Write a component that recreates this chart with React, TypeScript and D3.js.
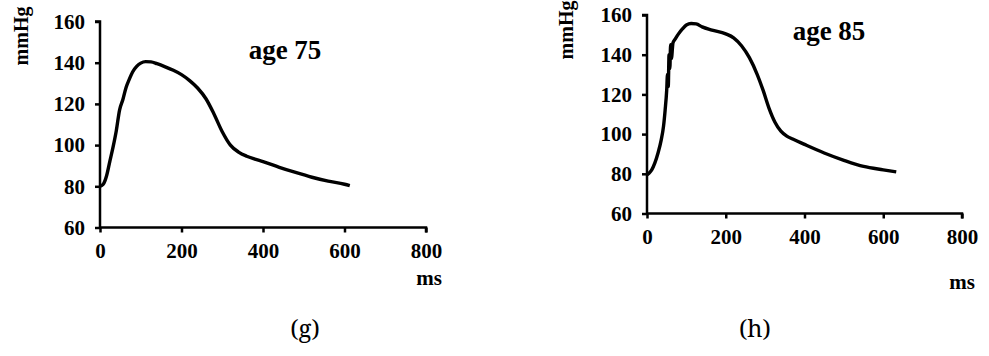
import * as d3 from "d3";
import { useRef, useEffect } from "react";

// age 75 pressure wave (ms -> mmHg)
const msAge75 = [0, 8, 16, 24, 32, 40, 48, 56, 64, 72, 80, 90, 100, 112, 125, 140, 160, 180, 200, 220, 240, 260, 280, 300, 320, 340, 360, 380, 400, 440, 480, 520, 560, 600, 613];
const pAge75 = [80, 81, 85, 92, 99, 107, 117, 122, 128, 132, 135.5, 138.2, 139.8, 140.5, 140.4, 139.5, 138, 136.3, 134.2, 131.3, 127.6, 122.5, 115, 106.5, 100, 96.6, 94.6, 93.2, 92, 89.2, 86.7, 84.4, 82.5, 81, 80.3];

// age 85 pressure wave (ms -> mmHg)
const msAge85 = [0, 5, 12, 20, 28, 36, 42, 46, 50, 52, 54, 56, 58, 60, 62, 66, 72, 80, 90, 100, 112, 125, 140, 165, 200, 220, 240, 260, 280, 295, 310, 325, 340, 355, 370, 400, 450, 500, 550, 600, 633];
const pAge85 = [79.5, 80.3, 82, 85.5, 90.5, 97, 104, 112, 122, 130, 124, 140, 133, 145, 138, 146, 148, 150.5, 153, 155, 155.7, 155.5, 154, 152.4, 150.5, 148.5, 144.5, 138.5, 130, 122, 113, 106, 101.5, 99, 97.5, 94.8, 90.5, 86.8, 83.7, 82, 81];

const xTicks = [0, 200, 400, 600, 800];
const yTicks = [60, 80, 100, 120, 140, 160];

const FONT = "'Liberation Serif', serif";
const CAP_FONT = "'Noto Serif', serif";

type PanelSpec = {
  ms: number[];
  p: number[];
  title: string;
  caption: string;
  x0: number;
  x1: number;
  yTop: number;
  yBottom: number;
  titleX: number;
  titleY: number;
  msX: number;
  msY: number;
  captionX: number;
  unitX: number;
  unitY: number;
};

const panels: PanelSpec[] = [
  { ms: msAge75, p: pAge75, title: "age 75", caption: "(g)", x0: 100, x1: 426, yTop: 21.5, yBottom: 227.5, titleX: 285, titleY: 59, msX: 429, msY: 285, captionX: 305, unitX: 21, unitY: 36 },
  { ms: msAge85, p: pAge85, title: "age 85", caption: "(h)", x0: 647, x1: 962, yTop: 15, yBottom: 213.5, titleX: 829, titleY: 40, msX: 962, msY: 289, captionX: 755, unitX: 566, unitY: 30 },
];

function bold(sel: any, size: number) {
  sel
    .attr("fill", "#000")
    .style("font-family", FONT)
    .style("font-weight", "bold")
    .style("font-size", `${size}px`);
}

export default function App() {
  const svgRef = useRef(null);

  useEffect(() => {
    const svg = d3.select(svgRef.current);
    svg.selectAll("*").remove();

    panels.forEach((pn) => {
      const x = d3.scaleLinear().domain([0, 800]).range([pn.x0, pn.x1]);
      const y = d3.scaleLinear().domain([60, 160]).range([pn.yBottom, pn.yTop]);
      const g = svg.append("g");

      const yAxis = g
        .append("g")
        .attr("transform", `translate(${pn.x0},0)`)
        .call(d3.axisLeft(y).tickValues(yTicks).tickSize(5).tickPadding(10));
      const xAxis = g
        .append("g")
        .attr("transform", `translate(0,${pn.yBottom})`)
        .call(d3.axisBottom(x).tickValues(xTicks).tickSize(5).tickPadding(11));

      [yAxis, xAxis].forEach((ax) => {
        ax.attr("font-family", null);
        ax.select(".domain").attr("stroke", "#000").attr("stroke-width", 2.5);
        ax.selectAll(".tick line").attr("stroke", "#000").attr("stroke-width", 2.5);
        bold(ax.selectAll(".tick text"), 21);
      });
      yAxis.select(".domain").attr("d", `M-5,${pn.yTop}H0V${pn.yBottom}`);
      xAxis.select(".domain").attr("d", `M${pn.x0},0H${pn.x1}V5`);

      const line = d3
        .line<number>()
        .x((_, i) => x(pn.ms[i]))
        .y((d) => y(d))
        .curve(d3.curveMonotoneX);

      g.append("path")
        .datum(pn.p)
        .attr("d", line)
        .attr("fill", "none")
        .attr("stroke", "#000")
        .attr("stroke-width", 3.4)
        .attr("stroke-linejoin", "round");

      const title = g
        .append("text")
        .attr("x", pn.titleX)
        .attr("y", pn.titleY)
        .attr("text-anchor", "middle")
        .text(pn.title);
      bold(title, 27);

      const unit = g
        .append("text")
        .attr("transform", `translate(${pn.unitX},${pn.unitY}) rotate(-90)`)
        .attr("text-anchor", "middle")
        .attr("dy", "0.35em")
        .text("mmHg");
      bold(unit, 20);

      const ms = g
        .append("text")
        .attr("x", pn.msX)
        .attr("y", pn.msY)
        .attr("text-anchor", "middle")
        .text("ms");
      bold(ms, 21);

      g.append("text")
        .attr("x", pn.captionX)
        .attr("y", 337)
        .attr("text-anchor", "middle")
        .attr("fill", "#000")
        .style("font-family", CAP_FONT)
        .style("font-size", "24px")
        .text(pn.caption);
    });
  }, []);

  return (
    <svg
      ref={svgRef}
      width={989}
      height={356}
      style={{ position: "absolute", left: 0, top: 0, background: "#fff" }}
    />
  );
}
